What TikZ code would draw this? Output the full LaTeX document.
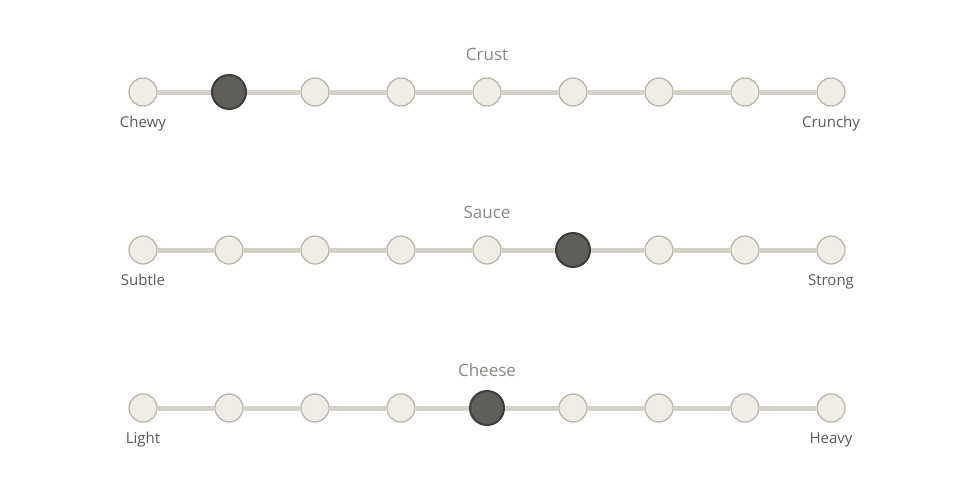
\documentclass[tikz,border=0pt]{standalone}
\usepackage{fontspec}
\setmainfont{Open Sans}
\usepackage{xcolor}
\usetikzlibrary{positioning, calc}

\definecolor{trackgray}{HTML}{D4D1C8}
\definecolor{dotfill}{HTML}{F0EDE6}
\definecolor{dotline}{HTML}{BAB6AD}
\definecolor{pickfill}{HTML}{5F5E58}
\definecolor{pickline}{HTML}{3E3D39}
\definecolor{titlegray}{HTML}{8A8883}
\definecolor{labelgray}{HTML}{5A5955}

\begin{document}
\begin{tikzpicture}[x=1pt, y=-1pt,
            ponto/.style={circle, draw=dotline, fill=dotfill, line width=1.3pt, minimum size=28pt, inner sep=0pt},
            escolha/.style={circle, draw=pickline, fill=pickfill, line width=2pt, minimum size=34pt, inner sep=0pt},
            trilho/.style={line width=5pt, trackgray},
            titulo/.style={font=\fontsize{17}{20}\selectfont, text=titlegray, anchor=base},
            rotulo/.style={font=\fontsize{15}{18}\selectfont, text=labelgray, inner sep=0pt, anchor=base}
        ]
            \useasboundingbox (0,0) rectangle (975,488);

            % Três escalas, uma por linha: nome, extremos e posição marcada
            \foreach \r/\ty/\nome/\esq/\dir/\sel in {1/92/Crust/Chewy/Crunchy/2, 2/250/Sauce/Subtle/Strong/6, 3/408/Cheese/Light/Heavy/5} {
                \foreach \i in {1,...,9} {
                    \ifnum\i=\sel
                        \node[escolha] (p\r-\i) at ({143+86*(\i-1)},\ty) {};
                    \else
                        \node[ponto] (p\r-\i) at ({143+86*(\i-1)},\ty) {};
                    \fi
                }
                % Segmentos do trilho entre pontos vizinhos
                \foreach \i [evaluate=\i as \j using int(\i+1)] in {1,...,8} {
                    \draw[trilho] (p\r-\i) -- (p\r-\j);
                }
                \node[titulo] (t\r) at (487,\ty-32) {\nome};
                \node[rotulo] (e\r) at ($(p\r-1)+(0,35)$) {\esq};
                \node[rotulo] (d\r) at ($(p\r-9)+(0,35)$) {\dir};
            }
        \end{tikzpicture}
\end{document}
